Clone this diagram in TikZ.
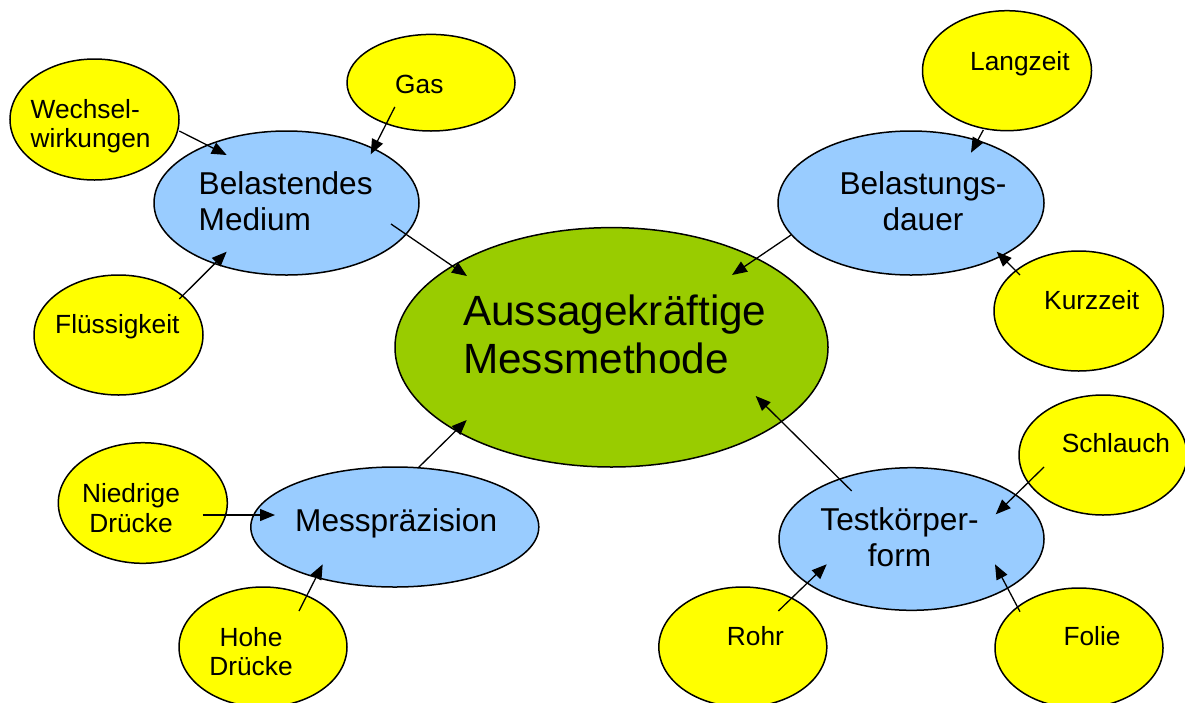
\documentclass[tikz,border=0pt]{standalone}
\usepackage{fontspec}
\setmainfont{Liberation Sans}
\usetikzlibrary{arrows.meta,shapes.geometric}
\definecolor{cgreen}{HTML}{99CC00}
\definecolor{cblue}{HTML}{99CCFF}
\definecolor{cyellow}{HTML}{FFFF00}
\newcommand{\twoL}[2]{\vtop{\hbox{#1}\hbox{#2}}}
\newcommand{\twoC}[2]{\vtop{\halign{\hfil##\hfil\cr #1\cr #2\cr}}}
\begin{document}
\begin{tikzpicture}[x=1pt,y=-1pt,
  ell/.style={ellipse, draw=black, line width=1.5pt, inner sep=0pt},
  ybub/.style={ell, fill=cyellow},
  bbub/.style={ell, fill=cblue},
  gbub/.style={ell, fill=cgreen},
  ytxt/.style={inner sep=0pt, font=\fontsize{26.3pt}{29.5pt}\selectfont},
  btxt/.style={inner sep=0pt, font=\fontsize{31.6pt}{36pt}\selectfont},
  gtxt/.style={inner sep=0pt, font=\fontsize{42.3pt}{48.6pt}\selectfont},
  lft/.style={anchor=base west},
  ctr/.style={anchor=base},
  arr/.style={line width=1.3pt, -{Triangle[length=15pt,width=12pt]}}]
\useasboundingbox (0,0) rectangle (1185,702);
% central
\node[gbub, minimum width=433pt, minimum height=239.4pt] (cen) at (611.5,347.3) {};
% blue
\node[bbub, minimum width=265pt, minimum height=144pt] (bel) at (286.5,203) {};
\node[bbub, minimum width=266pt, minimum height=144pt] (bd) at (911,203) {};
\node[bbub, minimum width=288pt, minimum height=120pt] (mp) at (394.8,527) {};
\node[bbub, minimum width=265pt, minimum height=142.6pt] (tk) at (911.5,539) {};
% yellow
\node[ybub, minimum width=169pt, minimum height=121pt] (wech) at (94.5,119.5) {};
\node[ybub, minimum width=168pt, minimum height=96.6pt] (gas) at (431,82.7) {};
\node[ybub, minimum width=169pt, minimum height=120pt] (flu) at (118.5,335) {};
\node[ybub, minimum width=169pt, minimum height=120pt] (lang) at (1007,70.7) {};
\node[ybub, minimum width=169.4pt, minimum height=120pt] (kurz) at (1078.7,311) {};
\node[ybub, minimum width=169pt, minimum height=120.6pt] (nied) at (142.8,503) {};
\node[ybub, minimum width=168pt, minimum height=120pt] (hohe) at (263,647) {};
\node[ybub, minimum width=168pt, minimum height=120pt] (rohr) at (742.8,647) {};
\node[ybub, minimum width=168pt, minimum height=120pt] (schl) at (1103,455) {};
\node[ybub, minimum width=168pt, minimum height=120pt] (folie) at (1079,648) {};
% connectors
\draw[arr] ([shift={(84.8,11.5)}]wech.center) -- ([shift={(-59.8,-48)}]bel.center);
\draw[arr] ([shift={(-36.2,24.3)}]gas.center) -- ([shift={(84.2,-48.7)}]bel.center);
\draw[arr] ([shift={(60.8,-36)}]flu.center) -- ([shift={(-59.8,48.7)}]bel.center);
\draw[arr] ([shift={(104.5,21)}]bel.center) -- ([shift={(-144.5,-71.3)}]cen.center);
\draw[arr] ([shift={(-120,32)}]bd.center) -- ([shift={(120.5,-72.3)}]cen.center);
\draw[arr] ([shift={(-23.7,59.3)}]lang.center) -- ([shift={(60,-50.3)}]bd.center);
\draw[arr] ([shift={(-58.7,-36)}]kurz.center) -- ([shift={(85.7,48.7)}]bd.center);
\draw[arr] ([shift={(59.9,12)}]nied.center) -- ([shift={(-119.8,-12)}]mp.center);
\draw[arr] ([shift={(36,-36)}]hohe.center) -- ([shift={(-72.1,37.3)}]mp.center);
\draw[arr] ([shift={(23.5,-59.3)}]mp.center) -- ([shift={(-144.8,72.7)}]cen.center);
\draw[arr] ([shift={(-59.8,-48)}]tk.center) -- ([shift={(144.2,48.7)}]cen.center);
\draw[arr] ([shift={(-59,12)}]schl.center) -- ([shift={(84.2,-24.7)}]tk.center);
\draw[arr] ([shift={(35.5,-36)}]rohr.center) -- ([shift={(-84.8,25.3)}]tk.center);
\draw[arr] ([shift={(-59,-36.3)}]folie.center) -- ([shift={(83.5,25.3)}]tk.center);
% texts
\node[gtxt, lft] (tcen) at (463,325) {\twoL{Aussagekräftige}{Messmethode}};
\node[btxt, lft] (tbel) at (198.5,194.3) {\twoL{Belastendes}{Medium}};
\node[btxt, ctr] (tbd) at (923,194.3) {\twoC{Belastungs-}{dauer}};
\node[btxt, lft] (tmp) at (295,531) {Messpräzision};
\node[btxt, ctr] (ttk) at (899.5,530) {\twoC{Testkörper-}{form}};
\node[ytxt, lft] (twech) at (30.5,118) {\twoL{Wechsel-}{wirkungen}};
\node[ytxt, lft] (tgas) at (395,93.3) {Gas};
\node[ytxt, lft] (tflu) at (55,333) {Flüssigkeit};
\node[ytxt, lft] (tlang) at (970,70) {Langzeit};
\node[ytxt, lft] (tkurz) at (1044,309.3) {Kurzzeit};
\node[ytxt, ctr] (tnied) at (131,502.7) {\twoC{Niedrige}{Drücke}};
\node[ytxt, ctr] (thohe) at (251,646) {\twoC{Hohe}{Drücke}};
\node[ytxt, lft] (trohr) at (726.7,645.3) {Rohr};
\node[ytxt, lft] (tschl) at (1061.7,452.7) {Schlauch};
\node[ytxt, lft] (tfolie) at (1063.3,645.3) {Folie};
\end{tikzpicture}
\end{document}
